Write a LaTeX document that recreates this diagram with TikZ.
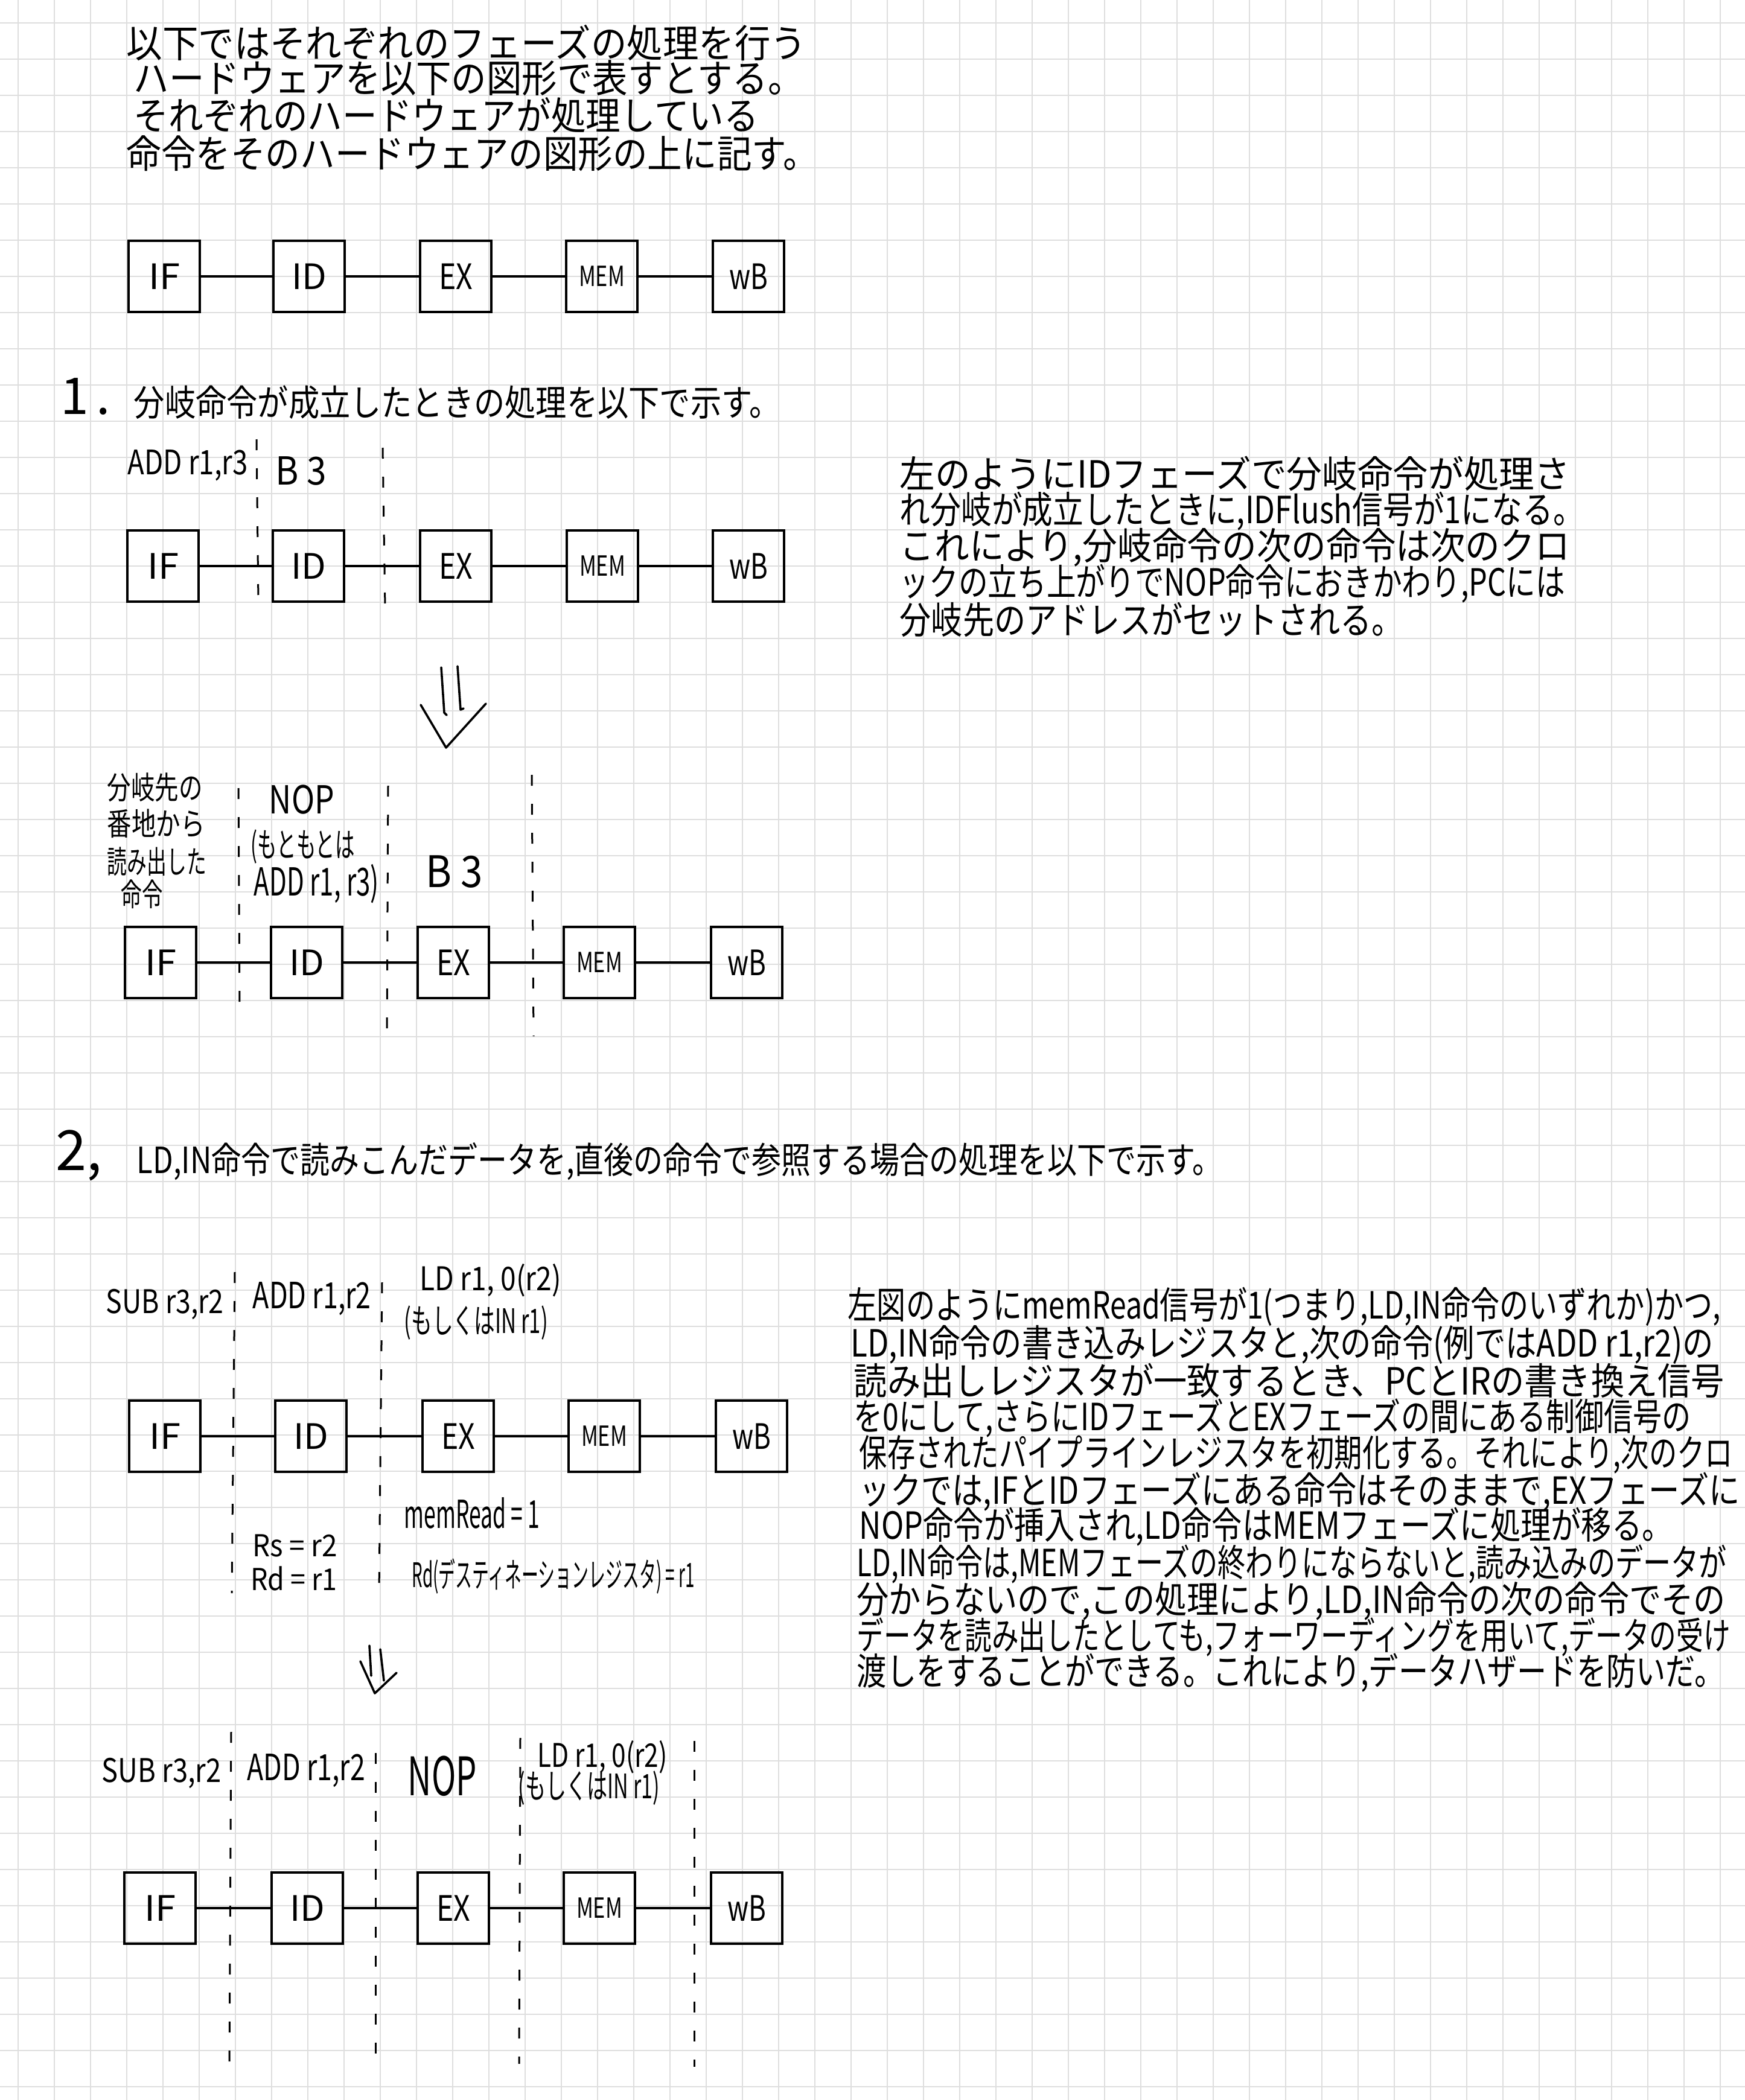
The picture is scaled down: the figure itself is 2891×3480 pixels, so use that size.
\documentclass[tikz,border=0pt]{standalone}
\usepackage{fontspec}
\usepackage{graphicx}
\setmainfont{Noto Sans CJK JP}
\newlength\pxu
\setlength\pxu{0.25pt}
\newcommand\hw[2]{\resizebox{#1\pxu}{\height}{#2}}
\newcommand\fsz[1]{\fontsize{#1}{#1}\selectfont}
\definecolor{gridgray}{RGB}{222,222,222}
\tikzset{
  gridline/.style={draw=gridgray, line width=0.6pt},
  stage/.style={draw, line width=1pt, minimum width=29.5pt, minimum height=29.5pt, inner sep=0pt, font=\fsz{14.5pt}},
  memstage/.style={stage, font=\fsz{11.5pt}},
  link/.style={line width=1pt},
  sepline/.style={line width=0.75pt, dash pattern=on 4.5pt off 7.5pt},
  txt/.style={anchor=west, inner sep=0pt},
  hand/.style={line width=0.9pt, line cap=round, line join=round},
}
\newcommand\mkpipe[7]{%
  \node[stage] (#1if) at (#3,#2) {\hw{52}{IF}};
  \node[stage] (#1id) at (#4,#2) {\hw{58}{ID}};
  \node[stage] (#1ex) at (#5,#2) {\hw{56}{EX}};
  \node[memstage] (#1mem) at (#6,#2) {\hw{76}{MEM}};
  \node[stage] (#1wb) at (#7,#2) {\hw{64}{wB}};
  \draw[link] (#1if) -- (#1id);
  \draw[link] (#1id) -- (#1ex);
  \draw[link] (#1ex) -- (#1mem);
  \draw[link] (#1mem) -- (#1wb);
}
\begin{document}
\begin{tikzpicture}[x=0.25pt, y=-0.25pt]
\fill[white] (0,0) rectangle (2891,3480);
\useasboundingbox (0,0) rectangle (2891,3480);
% grid paper
\foreach \k in {0,...,47} \draw[gridline] (30+60*\k,0) -- (30+60*\k,3480);
\foreach \k in {0,...,57} \draw[gridline] (0,38+60*\k) -- (2891,38+60*\k);

% introduction
\node[txt, font=\fsz{16pt}] (intro1) at (209,71) {\hw{1126}{以下ではそれぞれのフェーズの処理を行う}};
\node[txt, font=\fsz{16pt}] (intro2) at (221,129) {\hw{1109}{ハードウェアを以下の図形で表すとする。}};
\node[txt, font=\fsz{16pt}] (intro3) at (221,191) {\hw{1035}{それぞれのハードウェアが処理している}};
\node[txt, font=\fsz{16pt}] (intro4) at (209,254) {\hw{1145}{命令をそのハードウェアの図形の上に記す。}};

\mkpipe{pa}{458}{272}{512}{755}{997}{1240}

% section 1
\node[txt, font=\fsz{21pt}] (h1num) at (100,657) {1\kern3pt.};
\node[txt, font=\fsz{15pt}] (h1) at (221,667) {\hw{1071}{分岐命令が成立したときの処理を以下で示す。}};

\node[txt, font=\fsz{14pt}] (b1a) at (211,771) {\hw{199}{ADD r1,r3}};
\node[txt, font=\fsz{16pt}] (b1b) at (456,780) {\hw{84}{B 3}};
\draw[sepline] (425,728) -- (428,997);
\draw[sepline] (634,742) -- (638,1007);
\mkpipe{pb}{938}{270}{511}{755}{998}{1240}

\node[txt, font=\fsz{15.5pt}] (r1a) at (1490,785) {\hw{1110}{左のようにIDフェーズで分岐命令が処理さ}};
\node[txt, font=\fsz{15.5pt}] (r1b) at (1490,847) {\hw{1133}{れ分岐が成立したときに,IDFlush信号が1になる。}};
\node[txt, font=\fsz{15.5pt}] (r1c) at (1490,907) {\hw{1110}{これにより,分岐命令の次の命令は次のクロ}};
\node[txt, font=\fsz{15.5pt}] (r1d) at (1490,967) {\hw{1102}{ックの立ち上がりでNOP命令におきかわり,PCには}};
\node[txt, font=\fsz{15.5pt}] (r1e) at (1490,1027) {\hw{834}{分岐先のアドレスがセットされる。}};

% big down arrow
\draw[hand] (731,1106) -- (736,1181) -- (740,1185);
\draw[hand] (758,1104) -- (763,1176) -- (768,1174);
\draw[hand] (697,1168) -- (739,1239) -- (805,1166);

\node[txt, font=\fsz{13pt}] (c1a) at (177,1305) {\hw{158}{分岐先の}};
\node[txt, font=\fsz{13pt}] (c1b) at (177,1365) {\hw{162}{番地から}};
\node[txt, font=\fsz{13pt}] (c1c) at (177,1428) {\hw{164}{読み出した}};
\node[txt, font=\fsz{13pt}] (c1d) at (200,1482) {\hw{69}{命令}};
\node[txt, font=\fsz{16pt}] (c1e) at (445,1325) {\hw{108}{NOP}};
\node[txt, font=\fsz{14pt}] (c1f) at (415,1403) {\hw{172}{(もともとは}};
\node[txt, font=\fsz{16pt}] (c1g) at (420,1465) {\hw{207}{ADD r1, r3)}};
\node[txt, font=\fsz{18pt}] (c1h) at (705,1445) {\hw{94}{B 3}};
\draw[sepline] (395,1306) -- (397,1681);
\draw[sepline] (643,1302) -- (641,1713);
\draw[sepline] (881,1284) -- (884,1717);
\mkpipe{pc}{1595}{266}{508}{751}{993}{1237}

% section 2
\node[txt, font=\fsz{23pt}] (h2num) at (92,1915) {2,};
\node[txt, font=\fsz{15pt}] (h2) at (226,1925) {\hw{1798}{LD,IN命令で読みこんだデータを,直後の命令で参照する場合の処理を以下で示す。}};

\node[txt, font=\fsz{13.5pt}] (d1a) at (175,2161) {\hw{195}{SUB r3,r2}};
\node[txt, font=\fsz{15pt}] (d1b) at (418,2152) {\hw{196}{ADD r1,r2}};
\node[txt, font=\fsz{13.5pt}] (d1c) at (695,2122) {\hw{234}{LD r1, 0(r2)}};
\node[txt, font=\fsz{14pt}] (d1d) at (669,2192) {\hw{238}{(もしくはIN r1)}};
\draw[sepline] (389,2108) -- (384,2640);
\draw[sepline] (633,2125) -- (628,2640);
\mkpipe{pd}{2380}{273}{515}{759}{1001}{1245}
\node[txt, font=\fsz{16pt}] (d1e) at (669,2507) {\hw{224}{memRead = 1}};
\node[txt, font=\fsz{12.5pt}] (d1f) at (418,2561) {\hw{140}{Rs = r2}};
\node[txt, font=\fsz{12.5pt}] (d1g) at (415,2616) {\hw{143}{Rd = r1}};
\node[txt, font=\fsz{14pt}] (d1h) at (682,2612) {\hw{468}{Rd(デスティネーションレジスタ) = r1}};

% small down arrow
\draw[hand] (612,2727) -- (615,2777);
\draw[hand] (630,2733) -- (636,2785);
\draw[hand] (597,2753) -- (621,2806) -- (657,2772);

\node[txt, font=\fsz{13.5pt}] (e1a) at (168,2938) {\hw{198}{SUB r3,r2}};
\node[txt, font=\fsz{15pt}] (e1b) at (409,2934) {\hw{195}{ADD r1,r2}};
\node[txt, font=\fsz{22pt}] (e1c) at (675,2943) {\hw{114}{NOP}};
\node[txt, font=\fsz{13.5pt}] (e1d) at (890,2912) {\hw{215}{LD r1, 0(r2)}};
\node[txt, font=\fsz{14pt}] (e1e) at (858,2963) {\hw{234}{(もしくはIN r1)}};
\draw[sepline] (383,2870) -- (380,3428);
\draw[sepline] (622,2905) -- (622,3425);
\draw[sepline] (862,2880) -- (860,3420);
\draw[sepline] (1150,2885) -- (1150,3425);
\mkpipe{pe}{3162}{265}{509}{751}{993}{1237}

% right text of section 2
\node[txt, font=\fsz{15.5pt}] (r2a) at (1404,2165) {\hw{1446}{左図のようにmemRead信号が1(つまり,LD,IN命令のいずれか)かつ,}};
\node[txt, font=\fsz{15.5pt}] (r2b) at (1409,2228) {\hw{1429}{LD,IN命令の書き込みレジスタと,次の命令(例ではADD r1,r2)の}};
\node[txt, font=\fsz{15.5pt}] (r2c) at (1414,2288) {\hw{1442}{読み出しレジスタが一致するとき、PCとIRの書き換え信号}};
\node[txt, font=\fsz{15.5pt}] (r2d) at (1414,2350) {\hw{1387}{を0にして,さらにIDフェーズとEXフェーズの間にある制御信号の}};
\node[txt, font=\fsz{15.5pt}] (r2e) at (1423,2410) {\hw{1447}{保存されたパイプラインレジスタを初期化する。それにより,次のクロ}};
\node[txt, font=\fsz{15.5pt}] (r2f) at (1423,2472) {\hw{1459}{ックでは,IFとIDフェーズにある命令はそのままで,EXフェーズに}};
\node[txt, font=\fsz{15.5pt}] (r2g) at (1423,2530) {\hw{1347}{NOP命令が挿入され,LD命令はMEMフェーズに処理が移る。}};
\node[txt, font=\fsz{15.5pt}] (r2h) at (1419,2592) {\hw{1441}{LD,IN命令は,MEMフェーズの終わりにならないと,読み込みのデータが}};
\node[txt, font=\fsz{15.5pt}] (r2i) at (1419,2653) {\hw{1439}{分からないので,この処理により,LD,IN命令の次の命令でその}};
\node[txt, font=\fsz{15.5pt}] (r2j) at (1419,2713) {\hw{1447}{データを読み出したとしても,フォーワーディングを用いて,データの受け}};
\node[txt, font=\fsz{15.5pt}] (r2k) at (1419,2772) {\hw{1437}{渡しをすることができる。これにより,データハザードを防いだ。}};
\end{tikzpicture}
\end{document}
